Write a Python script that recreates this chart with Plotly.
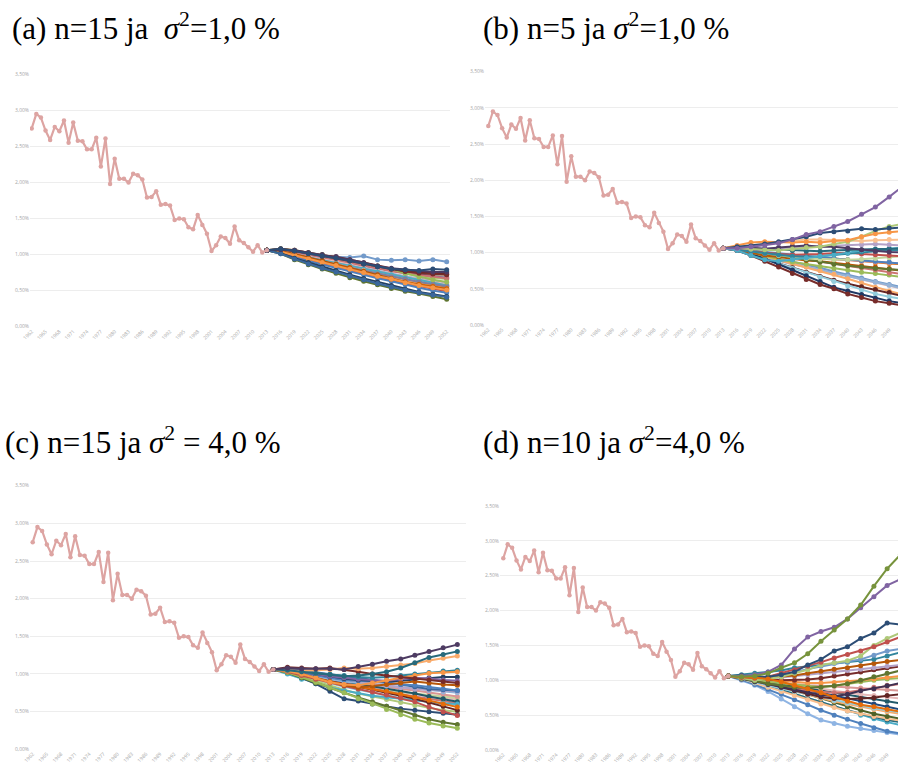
import plotly.graph_objects as go

W, H = 898, 762

hist_years = list(range(1962, 2014))
hist_vals = [2.75, 2.95, 2.90, 2.72, 2.59, 2.77, 2.71, 2.86, 2.55, 2.83,
             2.58, 2.57, 2.46, 2.46, 2.62, 2.22, 2.61, 1.98, 2.33, 2.05,
             2.05, 2.00, 2.12, 2.10, 2.04, 1.79, 1.80, 1.88, 1.69, 1.70,
             1.68, 1.48, 1.50, 1.49, 1.38, 1.35, 1.55, 1.41, 1.29, 1.05,
             1.13, 1.25, 1.23, 1.15, 1.39, 1.20, 1.16, 1.10, 1.04, 1.13,
             1.03, 1.06]

proj_years = [2013, 2016, 2019, 2022, 2025, 2028, 2031, 2034, 2037, 2040, 2043, 2046, 2049, 2052]

tick_years = list(range(1962, 2053, 3))
y_ticks = [0, 0.5, 1.0, 1.5, 2.0, 2.5, 3.0, 3.5]
y_tick_labels = ["0,00%", "0,50%", "1,00%", "1,50%", "2,00%", "2,50%", "3,00%", "3,50%"]

SIG2 = "<i>σ</i><sup>2</sup>"
titles = [
    "(a) n=15 ja\u00a0\u00a0" + SIG2 + "=1,0 %",
    "(b) n=5 ja " + SIG2 + "=1,0 %",
    "(c) n=15 ja " + SIG2 + " = 4,0 %",
    "(d) n=10 ja " + SIG2 + "=4,0 %",
]

# simulated paths (value %, at proj_years) with colours
paths_a = [
    ("#729ACA", [1.06, 1.05, 1.02, 1.00, 0.98, 0.97, 0.96, 0.98, 0.93, 0.92, 0.93, 0.91, 0.93, 0.90]),
    ("#AFC97A", [1.06, 1.06, 1.04, 1.01, 0.97, 0.93, 0.89, 0.85, 0.81, 0.77, 0.73, 0.70, 0.68, 0.66]),
    ("#C3D69B", [1.06, 1.06, 1.03, 1.00, 0.96, 0.93, 0.89, 0.86, 0.82, 0.79, 0.76, 0.73, 0.71, 0.69]),
    ("#8064A2", [1.06, 1.06, 1.03, 0.99, 0.96, 0.92, 0.88, 0.84, 0.81, 0.78, 0.75, 0.72, 0.70, 0.68]),
    ("#CD7371", [1.06, 1.05, 1.02, 0.98, 0.95, 0.92, 0.88, 0.84, 0.80, 0.77, 0.74, 0.72, 0.70, 0.67]),
    ("#95B3D7", [1.06, 1.05, 1.01, 0.97, 0.93, 0.89, 0.85, 0.81, 0.77, 0.73, 0.70, 0.67, 0.64, 0.61]),
    ("#E6B9B8", [1.06, 1.04, 1.00, 0.97, 0.94, 0.90, 0.86, 0.81, 0.77, 0.73, 0.69, 0.66, 0.62, 0.59]),
    ("#D99694", [1.06, 1.04, 1.00, 0.96, 0.92, 0.88, 0.84, 0.80, 0.76, 0.72, 0.68, 0.64, 0.60, 0.57]),
    ("#4BACC6", [1.06, 1.04, 1.00, 0.96, 0.92, 0.88, 0.84, 0.80, 0.76, 0.72, 0.68, 0.64, 0.60, 0.57]),
    ("#31859C", [1.06, 1.03, 0.98, 0.93, 0.89, 0.85, 0.81, 0.77, 0.73, 0.69, 0.65, 0.61, 0.58, 0.55]),
    ("#F9AB6B", [1.06, 1.03, 0.99, 0.95, 0.91, 0.87, 0.82, 0.78, 0.73, 0.69, 0.65, 0.60, 0.56, 0.53]),
    ("#7F7F9F", [1.06, 1.03, 0.98, 0.94, 0.90, 0.86, 0.82, 0.77, 0.73, 0.69, 0.66, 0.62, 0.59, 0.56]),
    ("#C0504D", [1.06, 1.03, 0.98, 0.93, 0.88, 0.83, 0.78, 0.74, 0.69, 0.64, 0.60, 0.56, 0.52, 0.49]),
    ("#4F81BD", [1.06, 1.02, 0.96, 0.91, 0.86, 0.82, 0.77, 0.72, 0.67, 0.63, 0.58, 0.54, 0.50, 0.47]),
    ("#E46C0A", [1.06, 1.04, 1.00, 0.95, 0.90, 0.86, 0.81, 0.76, 0.71, 0.66, 0.62, 0.59, 0.56, 0.53]),
    ("#B65708", [1.06, 1.05, 1.01, 0.96, 0.92, 0.87, 0.82, 0.77, 0.72, 0.67, 0.62, 0.58, 0.55, 0.52]),
    ("#F79646", [1.06, 1.04, 0.99, 0.94, 0.89, 0.85, 0.80, 0.75, 0.70, 0.66, 0.61, 0.57, 0.54, 0.51]),
    ("#254061", [1.06, 1.02, 0.95, 0.89, 0.83, 0.78, 0.72, 0.67, 0.62, 0.57, 0.52, 0.48, 0.45, 0.42]),
    ("#5F7530", [1.06, 1.01, 0.93, 0.86, 0.80, 0.74, 0.68, 0.63, 0.58, 0.53, 0.49, 0.46, 0.42, 0.38]),
    ("#3A679C", [1.06, 1.01, 0.94, 0.87, 0.81, 0.76, 0.70, 0.65, 0.60, 0.55, 0.51, 0.47, 0.44, 0.41]),
    ("#9BBB59", [1.06, 1.08, 1.06, 1.03, 1.00, 0.96, 0.92, 0.88, 0.84, 0.80, 0.74, 0.69, 0.65, 0.62]),
    ("#632523", [1.06, 1.07, 1.05, 1.02, 0.98, 0.95, 0.91, 0.87, 0.83, 0.80, 0.77, 0.75, 0.74, 0.73]),
    ("#772C2A", [1.06, 1.08, 1.06, 1.02, 0.99, 0.97, 0.93, 0.88, 0.84, 0.80, 0.77, 0.74, 0.73, 0.72]),
    ("#4D3B62", [1.06, 1.07, 1.06, 1.03, 1.00, 0.97, 0.93, 0.89, 0.84, 0.81, 0.79, 0.77, 0.76, 0.76]),
    ("#2C4D75", [1.06, 1.08, 1.05, 1.01, 0.98, 0.95, 0.91, 0.87, 0.83, 0.80, 0.79, 0.78, 0.80, 0.79]),
]

paths_b = [
    ("#E6B9B8", [1.06, 1.03, 0.99, 0.94, 0.89, 0.85, 0.81, 0.77, 0.72, 0.68, 0.63, 0.59, 0.55, 0.50]),
    ("#729ACA", [1.06, 1.04, 1.00, 0.96, 0.92, 0.88, 0.83, 0.79, 0.74, 0.70, 0.65, 0.60, 0.56, 0.52]),
    ("#95B3D7", [1.06, 1.03, 0.98, 0.93, 0.88, 0.84, 0.80, 0.76, 0.72, 0.67, 0.63, 0.59, 0.55, 0.50]),
    ("#F9AB6B", [1.06, 1.04, 1.00, 0.95, 0.90, 0.85, 0.80, 0.75, 0.70, 0.64, 0.58, 0.52, 0.47, 0.42]),
    ("#632523", [1.06, 1.03, 0.97, 0.91, 0.85, 0.79, 0.73, 0.67, 0.62, 0.57, 0.53, 0.49, 0.45, 0.40]),
    ("#93CDDD", [1.06, 1.03, 0.97, 0.91, 0.84, 0.78, 0.72, 0.66, 0.60, 0.54, 0.48, 0.43, 0.39, 0.36]),
    ("#1F3864", [1.06, 1.04, 0.99, 0.92, 0.84, 0.76, 0.68, 0.60, 0.52, 0.47, 0.42, 0.37, 0.33, 0.30]),
    ("#772C2A", [1.06, 1.03, 0.96, 0.88, 0.80, 0.71, 0.63, 0.56, 0.50, 0.43, 0.38, 0.33, 0.30, 0.27]),
    ("#9BBB59", [1.06, 1.05, 1.00, 0.95, 0.91, 0.87, 0.84, 0.81, 0.78, 0.76, 0.73, 0.71, 0.69, 0.66]),
    ("#CD7371", [1.06, 1.05, 1.02, 0.99, 0.96, 0.93, 0.90, 0.87, 0.85, 0.82, 0.79, 0.76, 0.72, 0.70]),
    ("#B65708", [1.06, 1.04, 1.00, 0.96, 0.94, 0.91, 0.89, 0.88, 0.86, 0.84, 0.82, 0.80, 0.78, 0.75]),
    ("#5F7530", [1.06, 1.05, 1.02, 0.99, 0.96, 0.93, 0.90, 0.87, 0.84, 0.82, 0.80, 0.78, 0.77, 0.76]),
    ("#E46C0A", [1.06, 1.05, 1.03, 1.00, 0.98, 0.96, 0.94, 0.93, 0.92, 0.90, 0.88, 0.86, 0.85, 0.84]),
    ("#D99694", [1.06, 1.05, 1.03, 1.00, 0.97, 0.95, 0.93, 0.92, 0.91, 0.90, 0.88, 0.87, 0.86, 0.85]),
    ("#4F81BD", [1.06, 1.05, 1.03, 1.01, 0.99, 0.97, 0.95, 0.93, 0.92, 0.90, 0.89, 0.88, 0.87, 0.85]),
    ("#C3D69B", [1.06, 1.05, 1.02, 0.99, 0.96, 0.94, 0.92, 0.91, 0.90, 0.90, 0.91, 0.92, 0.93, 0.95]),
    ("#C0504D", [1.06, 1.04, 1.01, 0.99, 0.98, 0.97, 0.97, 0.98, 0.99, 1.00, 0.98, 0.97, 0.96, 0.95]),
    ("#31859C", [1.06, 1.04, 1.02, 0.99, 0.97, 0.95, 0.94, 0.95, 0.97, 0.99, 1.01, 1.02, 1.03, 1.04]),
    ("#4BACC6", [1.06, 1.03, 0.96, 0.90, 0.88, 0.90, 0.93, 0.95, 0.97, 1.00, 1.03, 1.04, 1.06, 1.07]),
    ("#276A7C", [1.06, 1.07, 1.06, 1.05, 1.04, 1.03, 1.02, 1.02, 1.03, 1.04, 1.04, 1.05, 1.05, 1.06]),
    ("#B3A2C7", [1.06, 1.06, 1.05, 1.05, 1.06, 1.07, 1.08, 1.09, 1.10, 1.10, 1.11, 1.12, 1.11, 1.10]),
    ("#4D3B62", [1.06, 1.08, 1.07, 1.05, 1.07, 1.09, 1.10, 1.08, 1.08, 1.06, 1.04, 1.02, 1.01, 1.00]),
    ("#FAC090", [1.06, 1.07, 1.10, 1.12, 1.14, 1.16, 1.18, 1.18, 1.17, 1.16, 1.16, 1.17, 1.18, 1.18]),
    ("#AFC97A", [1.06, 1.07, 1.05, 1.04, 1.03, 1.05, 1.07, 1.08, 1.12, 1.15, 1.22, 1.30, 1.36, 1.40]),
    ("#F79646", [1.06, 1.10, 1.14, 1.15, 1.14, 1.14, 1.15, 1.14, 1.16, 1.17, 1.22, 1.26, 1.28, 1.30]),
    ("#2C4D75", [1.06, 1.08, 1.09, 1.12, 1.15, 1.18, 1.22, 1.27, 1.29, 1.30, 1.33, 1.32, 1.34, 1.35]),
    ("#8064A2", [1.06, 1.06, 1.08, 1.10, 1.13, 1.18, 1.25, 1.29, 1.36, 1.43, 1.53, 1.63, 1.77, 1.92]),
]

paths_c = [
    ("#E6B9B8", [1.06, 1.04, 1.01, 0.98, 0.95, 0.91, 0.87, 0.83, 0.80, 0.76, 0.73, 0.70, 0.68, 0.66]),
    ("#93CDDD", [1.06, 1.03, 0.97, 0.92, 0.87, 0.83, 0.79, 0.75, 0.71, 0.68, 0.65, 0.63, 0.60, 0.58]),
    ("#C3D69B", [1.06, 1.02, 0.97, 0.92, 0.88, 0.85, 0.82, 0.80, 0.78, 0.76, 0.74, 0.72, 0.70, 0.68]),
    ("#AFC97A", [1.06, 1.02, 0.96, 0.90, 0.84, 0.79, 0.74, 0.70, 0.66, 0.62, 0.58, 0.55, 0.52, 0.50]),
    ("#CD7371", [1.06, 1.04, 1.00, 0.96, 0.92, 0.88, 0.84, 0.80, 0.76, 0.73, 0.70, 0.67, 0.64, 0.61]),
    ("#D99694", [1.06, 1.04, 1.01, 0.98, 0.95, 0.92, 0.89, 0.86, 0.83, 0.80, 0.78, 0.75, 0.73, 0.70]),
    ("#215968", [1.06, 1.04, 1.01, 0.97, 0.93, 0.90, 0.87, 0.84, 0.80, 0.77, 0.74, 0.70, 0.67, 0.63]),
    ("#4BACC6", [1.06, 1.00, 0.93, 0.87, 0.82, 0.78, 0.74, 0.71, 0.69, 0.67, 0.65, 0.63, 0.61, 0.60]),
    ("#2C4D75", [1.06, 1.02, 0.95, 0.87, 0.77, 0.67, 0.64, 0.60, 0.57, 0.54, 0.52, 0.50, 0.48, 0.46]),
    ("#632523", [1.06, 1.03, 0.99, 0.95, 0.91, 0.87, 0.83, 0.79, 0.75, 0.71, 0.67, 0.62, 0.57, 0.52]),
    ("#E46C0A", [1.06, 1.03, 0.99, 0.94, 0.90, 0.86, 0.83, 0.80, 0.77, 0.73, 0.69, 0.65, 0.60, 0.56]),
    ("#5F7530", [1.06, 1.02, 0.95, 0.88, 0.81, 0.75, 0.69, 0.63, 0.57, 0.51, 0.45, 0.40, 0.36, 0.33]),
    ("#9BBB59", [1.06, 1.02, 0.96, 0.89, 0.82, 0.75, 0.67, 0.60, 0.53, 0.46, 0.40, 0.35, 0.31, 0.28]),
    ("#C0504D", [1.06, 1.03, 0.98, 0.93, 0.88, 0.84, 0.80, 0.76, 0.72, 0.68, 0.63, 0.56, 0.50, 0.45]),
    ("#95B3D7", [1.06, 1.04, 1.00, 0.96, 0.93, 0.90, 0.88, 0.86, 0.84, 0.82, 0.80, 0.78, 0.76, 0.75]),
    ("#B3A2C7", [1.06, 1.05, 1.03, 1.00, 0.97, 0.93, 0.90, 0.87, 0.85, 0.82, 0.80, 0.79, 0.78, 0.77]),
    ("#3A679C", [1.06, 1.07, 1.05, 1.02, 0.99, 0.97, 0.95, 0.92, 0.89, 0.86, 0.83, 0.80, 0.79, 0.78]),
    ("#4F81BD", [1.06, 1.05, 1.02, 0.98, 0.95, 0.92, 0.91, 0.90, 0.88, 0.86, 0.85, 0.83, 0.80, 0.78]),
    ("#254061", [1.06, 1.05, 1.03, 1.00, 0.97, 0.94, 0.92, 0.91, 0.90, 0.91, 0.93, 0.95, 0.96, 0.96]),
    ("#8064A2", [1.06, 1.05, 1.03, 1.00, 0.97, 0.95, 0.93, 0.92, 0.91, 0.93, 0.95, 0.94, 0.92, 0.91]),
    ("#B65708", [1.06, 1.04, 1.00, 0.95, 0.90, 0.85, 0.82, 0.84, 0.86, 0.88, 0.90, 0.88, 0.86, 0.85]),
    ("#31859C", [1.06, 1.05, 1.03, 1.01, 1.00, 0.98, 0.96, 0.95, 0.96, 0.98, 1.00, 1.02, 1.04, 1.05]),
    ("#F79646", [1.06, 1.04, 1.00, 0.95, 0.89, 0.86, 0.85, 0.88, 0.92, 0.95, 0.98, 1.01, 1.02, 1.03]),
    ("#772C2A", [1.06, 1.09, 1.08, 1.07, 1.08, 1.06, 1.03, 1.00, 0.98, 0.96, 0.94, 0.92, 0.90, 0.88]),
    ("#F9AB6B", [1.06, 1.05, 1.04, 1.05, 1.06, 1.08, 1.07, 1.08, 1.10, 1.12, 1.14, 1.18, 1.21, 1.24]),
    ("#276A7C", [1.06, 1.05, 1.03, 1.01, 0.99, 0.97, 0.98, 1.00, 1.03, 1.08, 1.15, 1.22, 1.26, 1.30]),
    ("#4D3B62", [1.06, 1.08, 1.07, 1.07, 1.07, 1.06, 1.10, 1.13, 1.17, 1.20, 1.25, 1.30, 1.35, 1.39]),
]

paths_d = [
    ("#8EB4E3", [1.06, 1.00, 0.93, 0.84, 0.73, 0.62, 0.52, 0.43, 0.38, 0.34, 0.31, 0.28, 0.25, 0.22]),
    ("#4F81BD", [1.06, 1.01, 0.94, 0.87, 0.80, 0.72, 0.65, 0.57, 0.50, 0.44, 0.38, 0.32, 0.27, 0.24]),
    ("#4BACC6", [1.06, 1.03, 0.98, 0.92, 0.86, 0.80, 0.74, 0.68, 0.62, 0.56, 0.50, 0.45, 0.40, 0.36]),
    ("#276A7C", [1.06, 1.02, 0.97, 0.92, 0.86, 0.80, 0.74, 0.68, 0.62, 0.57, 0.52, 0.47, 0.43, 0.40]),
    ("#FAC090", [1.06, 1.02, 0.96, 0.90, 0.84, 0.78, 0.72, 0.66, 0.61, 0.56, 0.52, 0.48, 0.45, 0.42]),
    ("#4F6228", [1.06, 1.03, 0.99, 0.95, 0.91, 0.86, 0.80, 0.74, 0.68, 0.62, 0.57, 0.52, 0.48, 0.45]),
    ("#F9AB6B", [1.06, 1.03, 0.99, 0.94, 0.89, 0.84, 0.79, 0.74, 0.70, 0.66, 0.62, 0.58, 0.55, 0.52]),
    ("#93CDDD", [1.06, 1.02, 0.97, 0.93, 0.88, 0.84, 0.79, 0.75, 0.71, 0.67, 0.64, 0.60, 0.57, 0.54]),
    ("#1F497D", [1.06, 1.03, 0.99, 0.96, 0.92, 0.88, 0.85, 0.82, 0.78, 0.74, 0.70, 0.66, 0.62, 0.58]),
    ("#215968", [1.06, 1.04, 1.01, 0.98, 0.95, 0.92, 0.89, 0.86, 0.83, 0.80, 0.77, 0.74, 0.70, 0.67]),
    ("#E6B9B8", [1.06, 1.05, 1.03, 1.00, 0.97, 0.94, 0.91, 0.88, 0.84, 0.82, 0.80, 0.78, 0.76, 0.74]),
    ("#632523", [1.06, 1.04, 1.00, 0.96, 0.90, 0.85, 0.80, 0.76, 0.74, 0.73, 0.74, 0.75, 0.78, 0.80]),
    ("#D99694", [1.06, 1.04, 1.02, 0.99, 0.96, 0.94, 0.93, 0.92, 0.91, 0.90, 0.89, 0.87, 0.86, 0.85]),
    ("#CD7371", [1.06, 1.03, 0.99, 0.95, 0.91, 0.88, 0.85, 0.83, 0.82, 0.83, 0.86, 0.90, 0.93, 0.95]),
    ("#403152", [1.06, 1.02, 0.98, 0.94, 0.90, 0.86, 0.82, 0.79, 0.77, 0.80, 0.85, 0.88, 0.92, 0.96]),
    ("#9BBB59", [1.06, 1.04, 1.01, 0.98, 0.96, 0.94, 0.92, 0.90, 0.92, 0.95, 0.98, 1.00, 1.02, 1.03]),
    ("#F79646", [1.06, 1.05, 1.03, 1.01, 0.99, 0.97, 0.96, 0.96, 0.97, 0.98, 1.00, 1.02, 1.04, 1.06]),
    ("#5F7530", [1.06, 1.03, 0.99, 0.95, 0.92, 0.90, 0.89, 0.90, 0.92, 0.95, 1.00, 1.05, 1.10, 1.14]),
    ("#772C2A", [1.06, 1.04, 1.02, 1.01, 1.00, 1.00, 1.01, 1.03, 1.06, 1.09, 1.12, 1.15, 1.18, 1.20]),
    ("#B3A2C7", [1.06, 1.05, 1.04, 1.03, 1.04, 1.06, 1.08, 1.10, 1.12, 1.14, 1.16, 1.18, 1.20, 1.22]),
    ("#B65708", [1.06, 1.04, 1.03, 1.04, 1.05, 1.07, 1.10, 1.13, 1.16, 1.18, 1.21, 1.24, 1.27, 1.29]),
    ("#31859C", [1.06, 1.08, 1.10, 1.12, 1.14, 1.18, 1.20, 1.22, 1.25, 1.26, 1.28, 1.30, 1.35, 1.40]),
    ("#729ACA", [1.06, 1.04, 1.03, 1.05, 1.08, 1.12, 1.16, 1.20, 1.24, 1.27, 1.30, 1.36, 1.42, 1.45]),
    ("#AFC97A", [1.06, 1.03, 1.00, 1.02, 1.05, 1.10, 1.15, 1.22, 1.25, 1.28, 1.35, 1.50, 1.60, 1.68]),
    ("#C0504D", [1.06, 1.04, 1.03, 1.05, 1.10, 1.15, 1.20, 1.26, 1.32, 1.37, 1.42, 1.48, 1.55, 1.62]),
    ("#2C4D75", [1.06, 1.07, 1.05, 1.05, 1.08, 1.12, 1.22, 1.30, 1.42, 1.48, 1.60, 1.68, 1.82, 1.80]),
    ("#E46C0A", [1.06, 1.05, 1.04, 1.02, 0.98, 0.93, 0.88, 0.82, 0.76, 0.70, 0.65, 0.62, 0.58, 0.55]),
    ("#8064A2", [1.06, 1.06, 1.08, 1.12, 1.22, 1.45, 1.62, 1.70, 1.76, 1.88, 2.04, 2.20, 2.36, 2.45]),
    ("#77933C", [1.06, 1.05, 1.06, 1.10, 1.18, 1.25, 1.38, 1.56, 1.72, 1.88, 2.08, 2.35, 2.60, 2.80]),
]

# panel geometry in pixels: (x_left, x_right, y_of_0%, y_of_3.5%, x_of_1962, px_per_year)
panels = [
    (30, 450, 326.7, 74.3, 31.7, 4.611),
    (485, 898, 325.0, 71.7, 488.3, 4.608),
    (30, 466, 749.3, 485.7, 32.7, 4.718),
    (500, 898, 750.0, 506.0, 503.3, 4.412),
]
title_pos = [(10, 26), (481, 26), (3, 440), (481, 440)]
all_paths = [paths_a, paths_b, paths_c, paths_d]

fig = go.Figure()
layout = dict(
    template="none",
    width=W, height=H, margin=dict(l=0, r=0, t=0, b=0, autoexpand=False),
    paper_bgcolor="white", plot_bgcolor="white", showlegend=False,
    font=dict(family="Open Sans, Calibri, sans-serif", color="#A6A6A6"),
    annotations=[], hovermode=False,
)

hist_color = "#DDA4A2"
for i, (xl, xr, y0, y35, x62, ppy) in enumerate(panels):
    sfx = "" if i == 0 else str(i + 1)
    xa, ya = "x" + sfx, "y" + sfx
    xr0 = 1962 - (x62 - xl) / ppy
    xr1 = 1962 + (xr - x62) / ppy
    layout["xaxis" + sfx] = dict(
        domain=[xl / W, xr / W], range=[xr0, xr1], anchor=ya, automargin=False,
        tickvals=tick_years, ticktext=[str(t) for t in tick_years],
        tickangle=-45, tickfont=dict(size=5, color="#A6A6A6"),
        showgrid=False, zeroline=False, showline=False, ticks="",
    )
    layout["yaxis" + sfx] = dict(
        domain=[1 - y0 / H, 1 - y35 / H], range=[0, 3.5], anchor=xa, automargin=False,
        tickvals=y_ticks, ticktext=y_tick_labels,
        tickfont=dict(size=5, color="#A6A6A6"),
        showgrid=True, gridcolor="#EDEDED", gridwidth=1,
        zeroline=False, showline=False, ticks="",
    )
    for col, vals in all_paths[i]:
        fig.add_trace(go.Scatter(
            x=proj_years, y=vals, mode="lines+markers", xaxis=xa, yaxis=ya,
            line=dict(color=col, width=2.0), marker=dict(color=col, size=5),
            hoverinfo="skip",
        ))
    fig.add_trace(go.Scatter(
        x=hist_years, y=hist_vals, mode="lines+markers", xaxis=xa, yaxis=ya,
        line=dict(color=hist_color, width=2.2), marker=dict(color=hist_color, size=4.5),
        hoverinfo="skip",
    ))
    tx, ty = title_pos[i]
    layout["annotations"].append(dict(
        text=titles[i], x=tx / W, y=1 - ty / H, xref="paper", yref="paper",
        xanchor="left", yanchor="middle", showarrow=False,
        font=dict(family="Liberation Serif, Times New Roman, serif", size=31, color="black"),
    ))

fig.update_layout(**layout)
fig.write_html(
    "out.html",
    config={"displayModeBar": False, "staticPlot": True},
    post_script="document.body.style.margin='0';document.body.style.overflow='hidden';",
)
